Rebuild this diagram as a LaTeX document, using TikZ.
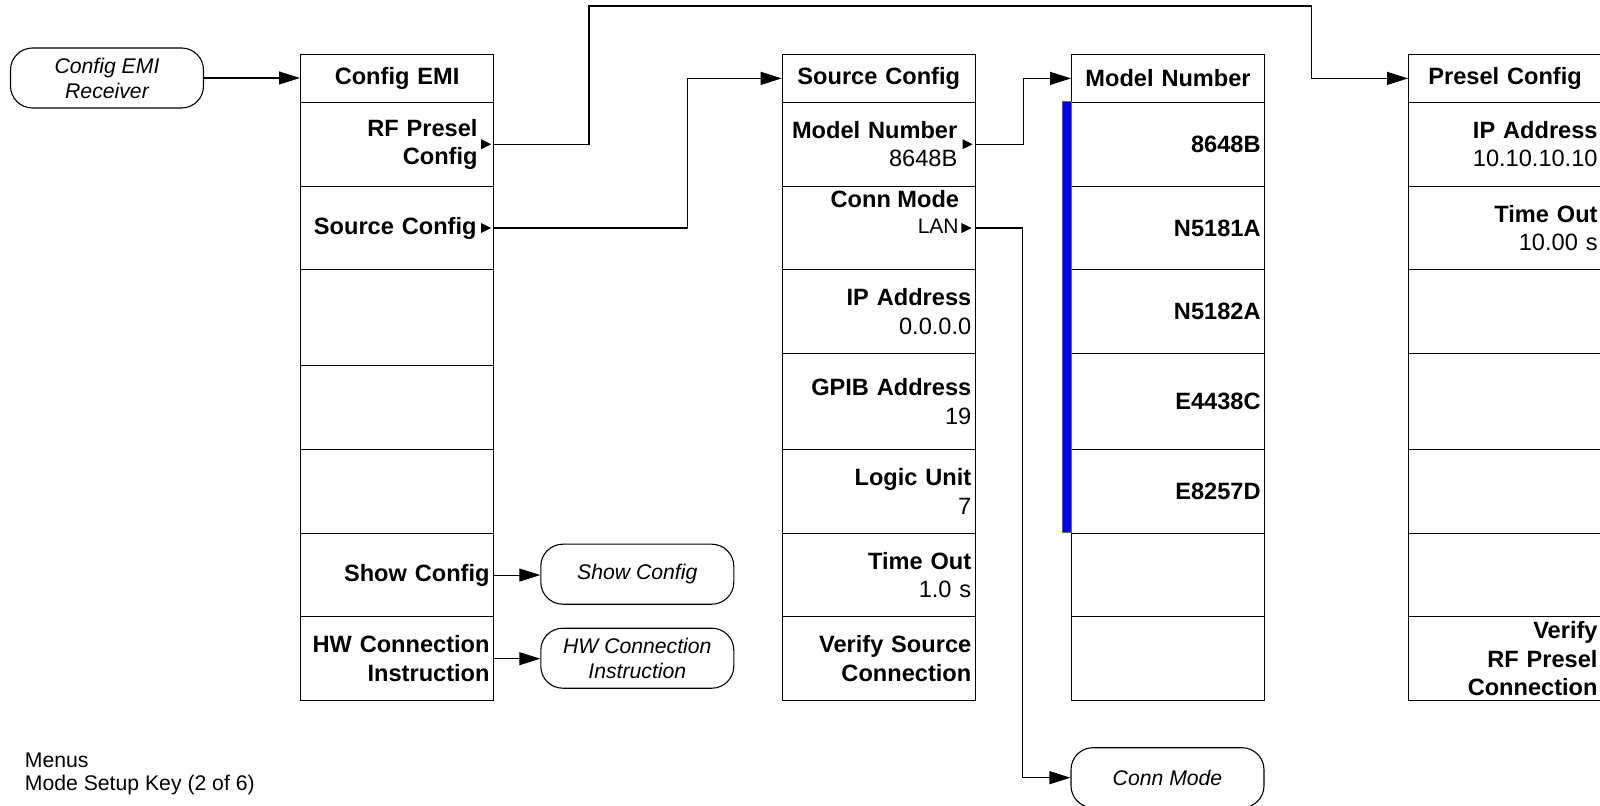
\documentclass[tikz,border=0pt]{standalone}
\usepackage{fontspec}
\usepackage{graphicx}
\setmainfont{Liberation Sans}
\usetikzlibrary{arrows.meta}
\begin{document}
\begin{tikzpicture}[x=0.5pt,y=-0.5pt,
  cell/.style={draw=black, line width=0.55pt, rectangle, anchor=north west,
    minimum width=96.5pt, inner xsep=2pt, inner ysep=0pt, text width=92.5pt,
    align=right, font=\bfseries\fontsize{11.8}{14.25}\selectfont},
  hcell/.style={cell, align=center},
  term/.style={draw=black, line width=0.55pt, rounded corners=11pt,
    minimum width=96.5pt, minimum height=30pt, inner sep=0pt, align=center,
    font=\itshape\fontsize{10.6}{12.5}\selectfont},
  lbl/.style={inner sep=0pt, font=\bfseries\fontsize{11.8}{14.25}\selectfont},
  conn/.style={line width=0.55pt, -{Triangle[length=10.5pt,width=6.5pt]}},
  mtri/.pic={\fill (0,0) -- (-10,-5) -- (-10,5) -- cycle;}
]
\useasboundingbox (0,0) rectangle (1600,806);

% ---------- column 1: Config EMI ----------
\node[hcell, minimum height=23.85pt] (c1h)  at (300,54)    {Config EMI};
\node[cell,  minimum height=42pt]    (c1r1) at (300,101.7) {RF Presel\hspace*{6pt}\mbox{}\\Config\hspace*{6pt}\mbox{}};
\node[cell,  minimum height=41.8pt]  (c1r2) at (300,185.7) {Source Config\hspace*{6.5pt}\mbox{}};
\node[cell,  minimum height=47.85pt] (c1r3) at (300,269.3) {};
\node[cell,  minimum height=42pt]    (c1r4) at (300,365)   {};
\node[cell,  minimum height=41.85pt] (c1r5) at (300,449)   {};
\node[cell,  minimum height=41.8pt]  (c1r6) at (300,532.7) {Show Config};
\node[cell,  minimum height=41.85pt] (c1r7) at (300,616.3) {HW Connection\\Instruction};

% ---------- column 2: Source Config ----------
\node[hcell, minimum height=23.85pt] (c2h)  at (781.7,54)    {Source Config};
\node[cell,  minimum height=42pt]    (c2r1) at (781.7,101.7) {Model Number\hspace*{7pt}\mbox{}\\{\mdseries 8648B}\hspace*{7pt}\mbox{}};
\node[cell,  minimum height=41.8pt]  (c2r2) at (781.7,185.7) {};
\node[cell,  minimum height=41.7pt]  (c2r3) at (781.7,269.3) {IP Address\\{\mdseries 0.0.0.0}};
\node[cell,  minimum height=48.3pt]  (c2r4) at (781.7,352.7) {GPIB Address\\{\mdseries 19}};
\node[cell,  minimum height=41.7pt]  (c2r5) at (781.7,449.3) {Logic Unit\\{\mdseries 7}};
\node[cell,  minimum height=41.8pt]  (c2r6) at (781.7,532.7) {Time Out\\{\mdseries 1.0 s}};
\node[cell,  minimum height=41.85pt] (c2r7) at (781.7,616.3) {Verify Source\\Connection};
\node[lbl, anchor=base east] (cmlbl) at (959.5,207.5) {Conn Mode};
\node[inner sep=0pt, anchor=base east, font=\fontsize{10.5}{12}\selectfont] (lanlbl) at (959,234) {LAN};

% ---------- column 3: Model Number ----------
\node[hcell, minimum height=23.85pt] (c3h)  at (1071,54)    {Model Number};
\node[cell,  minimum height=42pt]    (c3r1) at (1071,101.7) {8648B};
\node[cell,  minimum height=41.8pt]  (c3r2) at (1071,185.7) {N5181A};
\node[cell,  minimum height=41.7pt]  (c3r3) at (1071,269.3) {N5182A};
\node[cell,  minimum height=48.3pt]  (c3r4) at (1071,352.7) {E4438C};
\node[cell,  minimum height=41.7pt]  (c3r5) at (1071,449.3) {E8257D};
\node[cell,  minimum height=41.8pt]  (c3r6) at (1071,532.7) {};
\node[cell,  minimum height=41.85pt] (c3r7) at (1071,616.3) {};
\draw[fill=blue, draw=black!60, line width=0.4pt] (1062,101.7) rectangle (1071,532.7);

% ---------- column 4: Presel Config ----------
\node[hcell, minimum height=23.85pt] (c4h)  at (1408,54)    {Presel Config};
\node[cell,  minimum height=42pt]    (c4r1) at (1408,101.7) {IP Address\\{\mdseries 10.10.10.10}};
\node[cell,  minimum height=41.8pt]  (c4r2) at (1408,185.7) {Time Out\\{\mdseries 10.00 s}};
\node[cell,  minimum height=41.7pt]  (c4r3) at (1408,269.3) {};
\node[cell,  minimum height=48.3pt]  (c4r4) at (1408,352.7) {};
\node[cell,  minimum height=41.7pt]  (c4r5) at (1408,449.3) {};
\node[cell,  minimum height=41.8pt]  (c4r6) at (1408,532.7) {};
\node[cell,  minimum height=41.85pt] (c4r7) at (1408,616.3) {Verify\\RF Presel\\Connection};

% ---------- rounded terminal boxes ----------
\node[term] (cfg)     at (107,78)       {Config EMI\\Receiver};
\node[term] (showcfg) at (637.3,574.2)  {Show Config};
\node[term] (hwbox)   at (637.3,658.2)  {HW Connection\\Instruction};
\node[term] (connm)   at (1167.5,777.7) {Conn Mode};

% ---------- small submenu triangles ----------
\pic at ([xshift=-1.5pt]c1r1.east) {mtri};
\pic at ([xshift=-1.5pt]c1r2.east) {mtri};
\pic at ([xshift=-1.6pt]c2r1.east) {mtri};
\pic at ([xshift=-2.2pt]c2r2.east) {mtri};

% ---------- connectors ----------
\coordinate (rfup)   at (589,6);
\coordinate (rfdown) at (1311.7,6);
\coordinate (scv)    at (687.7,150);
\coordinate (mnv)    at (1023.3,120);
\coordinate (cmv)    at (1022.7,400);

\draw[conn] (cfg.east) -- (cfg.east -| c1h.west);
\draw[conn] (c1r1.east) -| (rfup) -- (rfdown) |- (c4h.west);
\draw[conn] (c1r2.east) -| (scv) |- (c2h.west);
\draw[conn] (c2r1.east) -| (mnv) |- (c3h.west);
\draw[conn] (c2r2.east) -| (cmv) |- (connm.west);
\draw[conn] (c1r6.east) -- (c1r6.east -| showcfg.west);
\draw[conn] (c1r7.east) -- (c1r7.east -| hwbox.west);

% ---------- caption ----------
\node[anchor=west, align=left, inner sep=0pt, font=\fontsize{10.6}{11.75}\selectfont] (menus) at (24.5,774) {Menus\\Mode Setup Key (2 of 6)};
\end{tikzpicture}
\end{document}
